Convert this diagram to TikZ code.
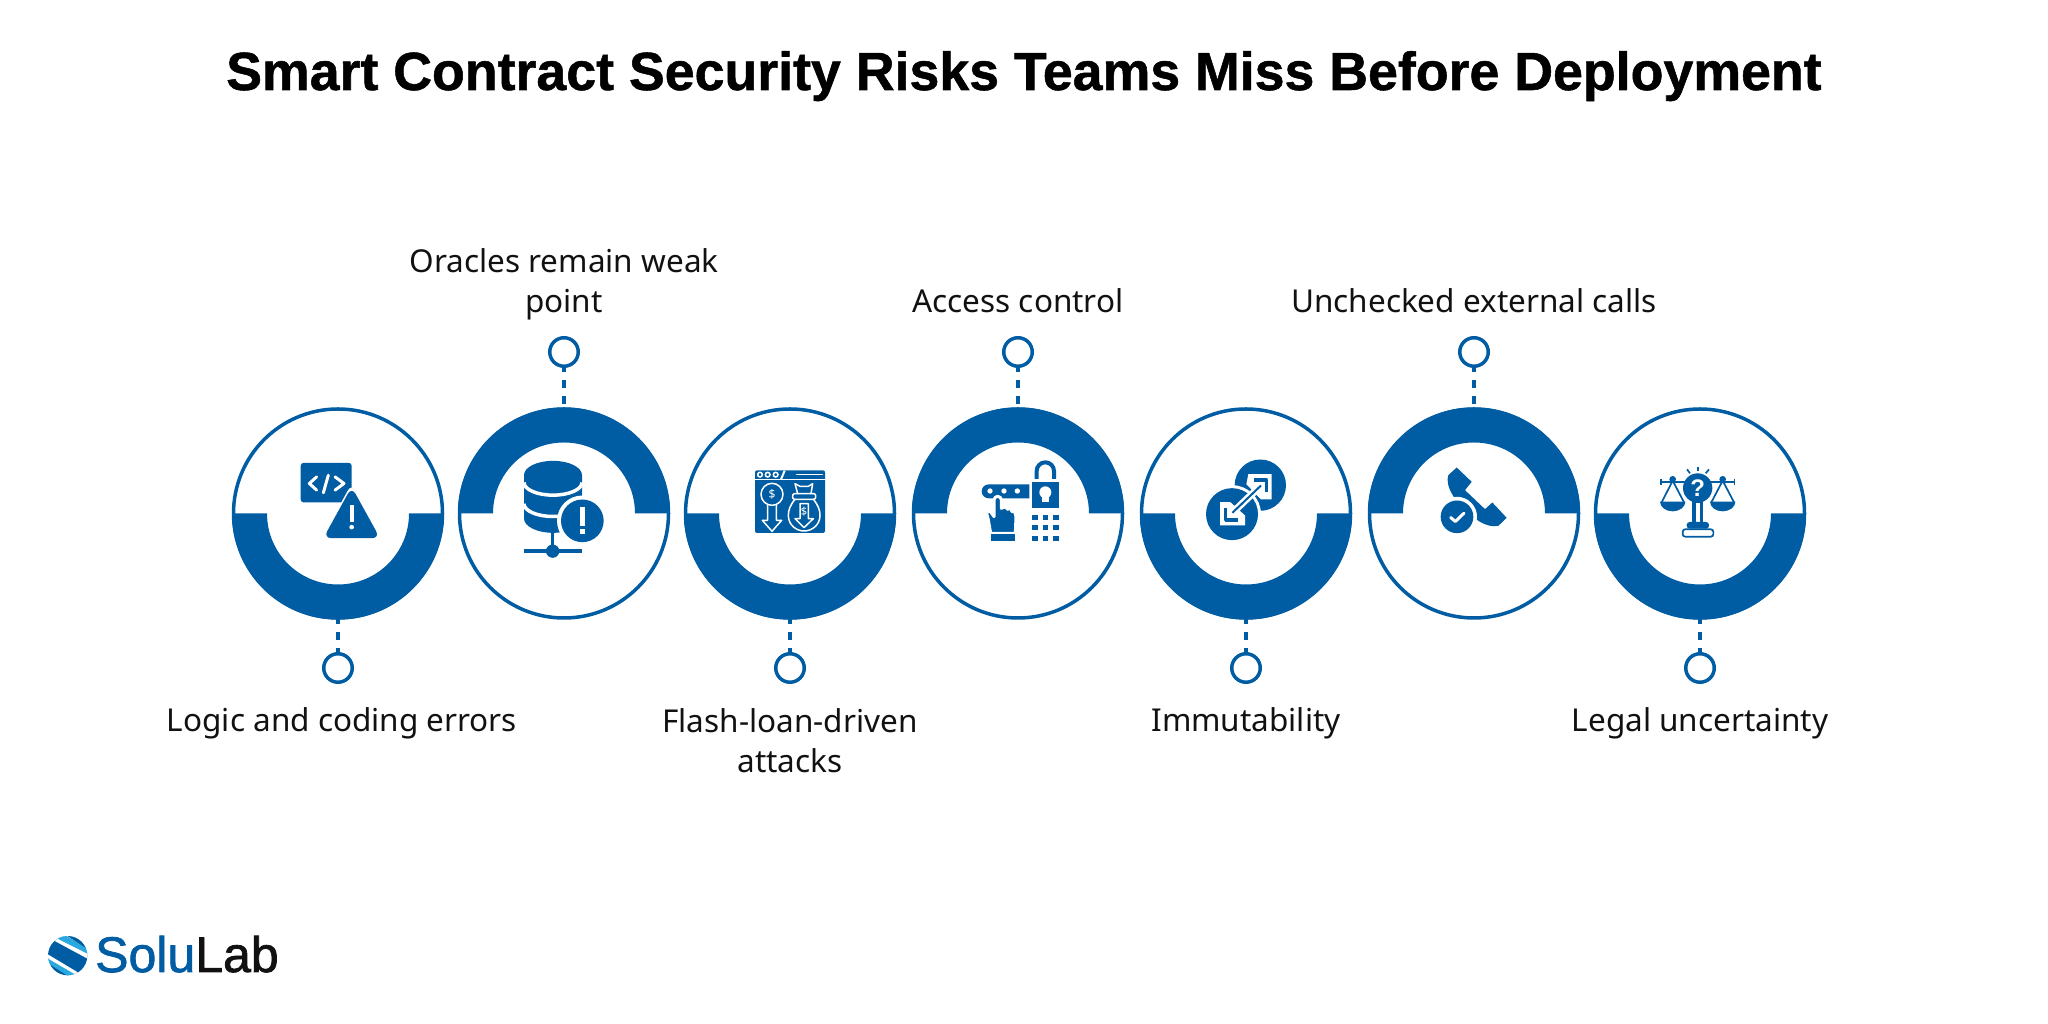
\documentclass[tikz,border=0pt]{standalone}
\usepackage{fontspec}
\setmainfont{Noto Sans}
\newfontfamily\titlefont{Liberation Sans}[BoldFont={Liberation Sans Bold},BoldFeatures={FakeBold=1}]
\newfontfamily\logofont{Liberation Sans}[FakeBold=1.5]
\newfontfamily\askfont{Liberation Sans Bold}
\usetikzlibrary{arrows,positioning}
\definecolor{bandblue}{HTML}{005CA3}
\definecolor{lightblue}{HTML}{2AA9E0}
\definecolor{labelgray}{HTML}{111111}

\begin{document}
\begin{tikzpicture}[x=1pt,y=1pt,
		ring node/.style={circle,draw=bandblue,line width=3.5pt,minimum size=209pt,inner sep=0pt,outer sep=0pt},
		dot node/.style={circle,draw=bandblue,line width=3.5pt,minimum size=28.5pt,inner sep=0pt,outer sep=0pt},
		stem/.style={draw=bandblue,line width=4pt,dash pattern=on 8pt off 8pt,dash phase=2.5pt},
		band/.style={fill=bandblue},
		risk node/.style={font=\fontsize{31.5}{40}\selectfont,text=labelgray,align=center,inner sep=0pt,
			execute at begin node=\strut,execute at end node=\strut},
		zoomed/.style={x=.3333pt,y=-.3333pt},
		blue part/.style={fill=bandblue},
		white line/.style={draw=white,line cap=round,line join=round},
		blue line/.style={draw=bandblue,line join=round}]
	\useasboundingbox (0,0) rectangle (2048,1024);
	\node[font=\titlefont\fontsize{53.7}{60}\selectfont\bfseries,anchor=base] (title) at (1024,934)
		{Smart Contract Security Risks Teams Miss Before Deployment};
	%
	% The seven rings.
	\node[ring node] (r1) at (338,510.5) {};
	\node[ring node] (r2) [right =17pt of r1] {};
	\node[ring node] (r3) [right =17pt of r2] {};
	\node[ring node] (r4) [right =19pt of r3] {};
	\node[ring node] (r5) [right =19pt of r4] {};
	\node[ring node] (r6) [right =19pt of r5] {};
	\node[ring node] (r7) [right =17pt of r6] {};
	%
	% Thick half bands, below and above in turn.
	\fill[band] (r1.center) ++(180:106) arc (180:360:106) -- ++(-35,0) arc (360:180:71) -- cycle;
	\fill[band] (r2.center) ++(180:106) arc (180:0:106) -- ++(-35,0) arc (0:180:71) -- cycle;
	\fill[band] (r3.center) ++(180:106) arc (180:360:106) -- ++(-35,0) arc (360:180:71) -- cycle;
	\fill[band] (r4.center) ++(180:106) arc (180:0:106) -- ++(-35,0) arc (0:180:71) -- cycle;
	\fill[band] (r5.center) ++(180:106) arc (180:360:106) -- ++(-35,0) arc (360:180:71) -- cycle;
	\fill[band] (r6.center) ++(180:106) arc (180:0:106) -- ++(-35,0) arc (0:180:71) -- cycle;
	\fill[band] (r7.center) ++(180:106) arc (180:360:106) -- ++(-35,0) arc (360:180:71) -- cycle;
	%
	% Small dots on their stems.
	\node[dot node] (d1) [below =35.75pt of r1] {};
	\node[dot node] (d2) [above =42.75pt of r2] {};
	\node[dot node] (d3) [below =35.75pt of r3] {};
	\node[dot node] (d4) [above =42.75pt of r4] {};
	\node[dot node] (d5) [below =35.75pt of r5] {};
	\node[dot node] (d6) [above =42.75pt of r6] {};
	\node[dot node] (d7) [below =35.75pt of r7] {};
	\path[stem]
		(d1) edge (r1)
		(d2) edge (r2)
		(d3) edge (r3)
		(d4) edge (r4)
		(d5) edge (r5)
		(d6) edge (r6)
		(d7) edge (r7);
	%
	% Labels.
	\node[risk node] (t1) [below =21.4pt of d1,xshift=4pt] {Logic and coding errors};
	\node[risk node] (t2) [above =12.6pt of d2] {Oracles remain weak\\point};
	\node[risk node] (t3) [below =26.4pt of d3] {Flash-loan-driven\\attacks};
	\node[risk node] (t4) [above =12.6pt of d4] {Access control};
	\node[risk node] (t5) [below =21.4pt of d5] {Immutability};
	\node[risk node] (t6) [above =12.6pt of d6] {Unchecked external calls};
	\node[risk node] (t7) [below =21.4pt of d7] {Legal uncertainty};
	%
	% Code window with a warning sign.
	\begin{scope}[shift={(r1.center)},zoomed,shift={(-384,-585)}]
		\fill[blue part,rounded corners=3pt] (272,433) rectangle (425,552);
		\draw[white line,line width=3pt] (320,475) -- (298,495) -- (320,515);
		\draw[white line,line width=3pt] (355,470) -- (340,523);
		\draw[white line,line width=3pt] (375,475) -- (402,495) -- (375,515);
		\fill[white,rounded corners=8pt] (425,495) -- (520,668) -- (330,668) -- cycle;
		\fill[blue part,rounded corners=8pt] (425,505) -- (510,659) -- (340,659) -- cycle;
		\draw[white line,line width=4pt,line cap=butt] (425,560) -- (425,610);
		\fill[white] (425,626) circle (7);
	\end{scope}
	%
	% Database with a warning disc.
	\begin{scope}[shift={(r2.center)},zoomed,shift={(-1062,-585)}]
		\fill[blue part] (942,470) -- (942,600) arc (180:0:87 and 43) -- (1116,470) arc (360:180:87 and 43) -- cycle;
		\draw[white,line width=3.5pt] (942,492) arc (180:0:87 and 38);
		\draw[white,line width=3.5pt] (942,556) arc (180:0:87 and 38);
		\draw[bandblue,line width=3.5pt] (1028,640) -- (1028,698);
		\draw[bandblue,line width=4pt] (942,698) -- (1115,698);
		\fill[blue part] (1028,698) circle (20);
		\fill[white] (1117,607) circle (76);
		\fill[blue part] (1117,607) circle (64);
		\draw[white,line width=5pt] (1117,565) -- (1117,622);
		\draw[white,line width=5pt] (1117,633) -- (1117,648);
	\end{scope}
	%
	% Browser window with a key and a money bag.
	\begin{scope}[shift={(r3.center)},zoomed,shift={(-135,-154.5)}]
		\fill[blue part,rounded corners=2pt] (30,25) rectangle (240,213);
		\draw[white,line width=1.5pt] (30,52) -- (240,52);
		\draw[white,line width=1.5pt,fill=bandblue] (45,38) circle (7);
		\draw[white,line width=1.5pt,fill=bandblue] (68,38) circle (7);
		\draw[white,line width=1.5pt,fill=bandblue] (92,38) circle (7);
		\draw[white,line width=2pt] (119,26) -- (108,52);
		\draw[white line,line width=1.5pt] (155,38) -- (232,38);
		\draw[white line,line width=1.5pt] (81,97) circle (33);
		\draw[white line,line width=1.5pt] (68,130) -- (68,175) -- (52,175) -- (81,208) -- (110,175) -- (94,175) -- (94,130);
		\node[text=white,font=\fontsize{12}{12}\selectfont\bfseries,inner sep=0pt] (coin) at (81,97) {\$};
		\draw[white line,line width=1.5pt] (158,95) -- (150,65) -- (165,73) -- (190,73) -- (203,65) -- (198,95);
		\draw[white line,line width=1.5pt,rounded corners=2pt] (143,95) rectangle (212,112);
		\draw[white line,line width=1.5pt] (150,112) .. controls (135,130) and (130,145) .. (130,160)
			.. controls (130,190) and (155,207) .. (177,207) .. controls (200,207) and (225,190) .. (225,160)
			.. controls (225,145) and (220,130) .. (205,112);
		\draw[white line,line width=1.5pt] (165,125) -- (190,125) -- (190,170) -- (205,170) -- (177,197) -- (150,170) -- (165,170) -- cycle;
		\node[text=white,font=\fontsize{11}{11}\selectfont\bfseries,inner sep=0pt] (bag) at (177,150) {\$};
	\end{scope}
	%
	% Hand on a keypad, with a padlock.
	\begin{scope}[shift={(r4.center)},zoomed,shift={(-144,-175.5)}]
		\fill[blue part] (178,88) -- (56,88) arc (270:90:21) -- (178,130) -- cycle;
		\fill[white] (60,108) circle (8);
		\fill[white] (102,108) circle (8);
		\fill[white] (142,108) circle (8);
		\fill[blue part] (186,80) rectangle (266,158);
		\draw[bandblue,line width=4pt] (200,72) -- (200,48) arc (180:360:26) -- (252,72);
		\fill[white] (226,112) circle (18);
		\fill[white] (217,112) rectangle (236,142);
		\foreach \col in {195,226,258}
			\foreach \row in {187,218,250}
				\fill[blue part] (\col-8,\row-8) rectangle (\col+8,\row+8);
		\draw[white,line width=3pt,fill=bandblue,line join=round] (72,135) arc (180:360:11) -- (94,160) -- (108,155) -- (112,163) -- (122,160) -- (126,170) -- (134,170) -- (138,185) -- (136,235) -- (62,235) -- (55,195) -- (50,175) -- (58,165) -- (72,185) -- cycle;
		\fill[blue part] (62,238) rectangle (136,258);
	\end{scope}
	%
	% Two discs joined by a double arrow.
	\begin{scope}[shift={(r5.center)},zoomed,shift={(-153,-180)}]
		\fill[blue part] (196,95) circle (77);
		\fill[white] (111,182) circle (87);
		\fill[blue part] (111,182) circle (78);
		\fill[white] (160,62) -- (230,62) -- (230,138) -- (198,138) -- (154,92) -- cycle;
		\fill[white] (75,146) -- (75,216) -- (150,216) -- (150,186) -- (106,146) -- cycle;
		\draw[white,line width=7pt] (110,180) -- (200,94);
		\draw[blue line,line width=2pt] (112,178) -- (198,96);
		\draw[blue line,line width=3.5pt] (178,80) -- (214,80) -- (214,116);
		\draw[blue line,line width=3.5pt] (92,165) -- (92,200) -- (128,200);
	\end{scope}
	%
	% Telephone handset with a check mark.
	\begin{scope}[shift={(r6.center)},zoomed,shift={(-1062,-585)}]
		\fill[blue part] (1010,447) -- (1055,490) -- (1035,515) -- (1095,572) -- (1117,552) -- (1160,598) -- (1135,622)
			.. controls (1100,630) and (1060,600) .. (1030,570) .. controls (1000,540) and (975,500) .. (985,470) -- cycle;
		\fill[white] (1011,595) circle (60);
		\fill[blue part] (1011,595) circle (49);
		\draw[white line,line width=3pt] (992,597) -- (1006,609) -- (1032,584);
	\end{scope}
	%
	% Scales with a question mark.
	\begin{scope}[shift={(r7.center)},zoomed,shift={(-150,-160.5)}]
		\draw[bandblue,line width=1.7pt] (32,67) -- (253,67);
		\draw[bandblue,line width=1.7pt] (32,58) -- (32,76);
		\draw[bandblue,line width=1.7pt] (253,58) -- (253,76);
		\fill[blue part] (143,84) circle (44);
		\draw[bandblue,line width=1.7pt] (143,20) -- (143,33);
		\draw[bandblue,line width=1.7pt] (111,28) -- (120,40);
		\draw[bandblue,line width=1.7pt] (177,28) -- (167,40);
		\node[text=white,font=\askfont\fontsize{24}{24}\selectfont,inner sep=0pt] (ask) at (143,84) {?};
		\fill[blue part] (68,58) circle (10);
		\fill[blue part] (218,58) circle (10);
		\draw[blue line,line width=1.7pt] (35,127) -- (68,62) -- (102,127);
		\draw[blue line,line width=1.7pt] (184,127) -- (218,62) -- (252,127);
		\fill[blue part] (30,125) arc (180:0:38 and 29) -- cycle;
		\fill[blue part] (180,125) arc (180:0:38 and 29) -- cycle;
		\fill[blue part] (127,120) rectangle (160,190);
		\fill[white] (137,128) rectangle (150,190);
		\fill[blue part,rounded corners=3pt] (110,206) -- (110,186) -- (177,186) -- (177,206) -- cycle;
		\draw[bandblue,line width=1.7pt,rounded corners=2.5pt] (98,208) rectangle (190,230);
	\end{scope}
	%
	% Logo.
	\begin{scope}[shift={(30,114)},zoomed]
		\fill[blue part] (113,137) circle (59);
		\clip (113,137) circle (59);
		\fill[white] (50,80) -- (100,70) -- (180,125) -- (180,150) -- cycle;
		\fill[lightblue] (55,72) -- (100,72) -- (180,122) -- (180,135) -- cycle;
		\fill[white] (40,125) -- (40,150) -- (130,205) -- (165,200) -- cycle;
		\fill[lightblue] (40,138) -- (40,150) -- (125,205) -- (155,205) -- cycle;
	\end{scope}
	\node[font=\logofont\fontsize{50}{50}\selectfont,anchor=base west,inner sep=0pt] (logo) at (95,52)
		{\textcolor{bandblue}{Solu}\textcolor{labelgray}{Lab}};
\end{tikzpicture}
\end{document}
